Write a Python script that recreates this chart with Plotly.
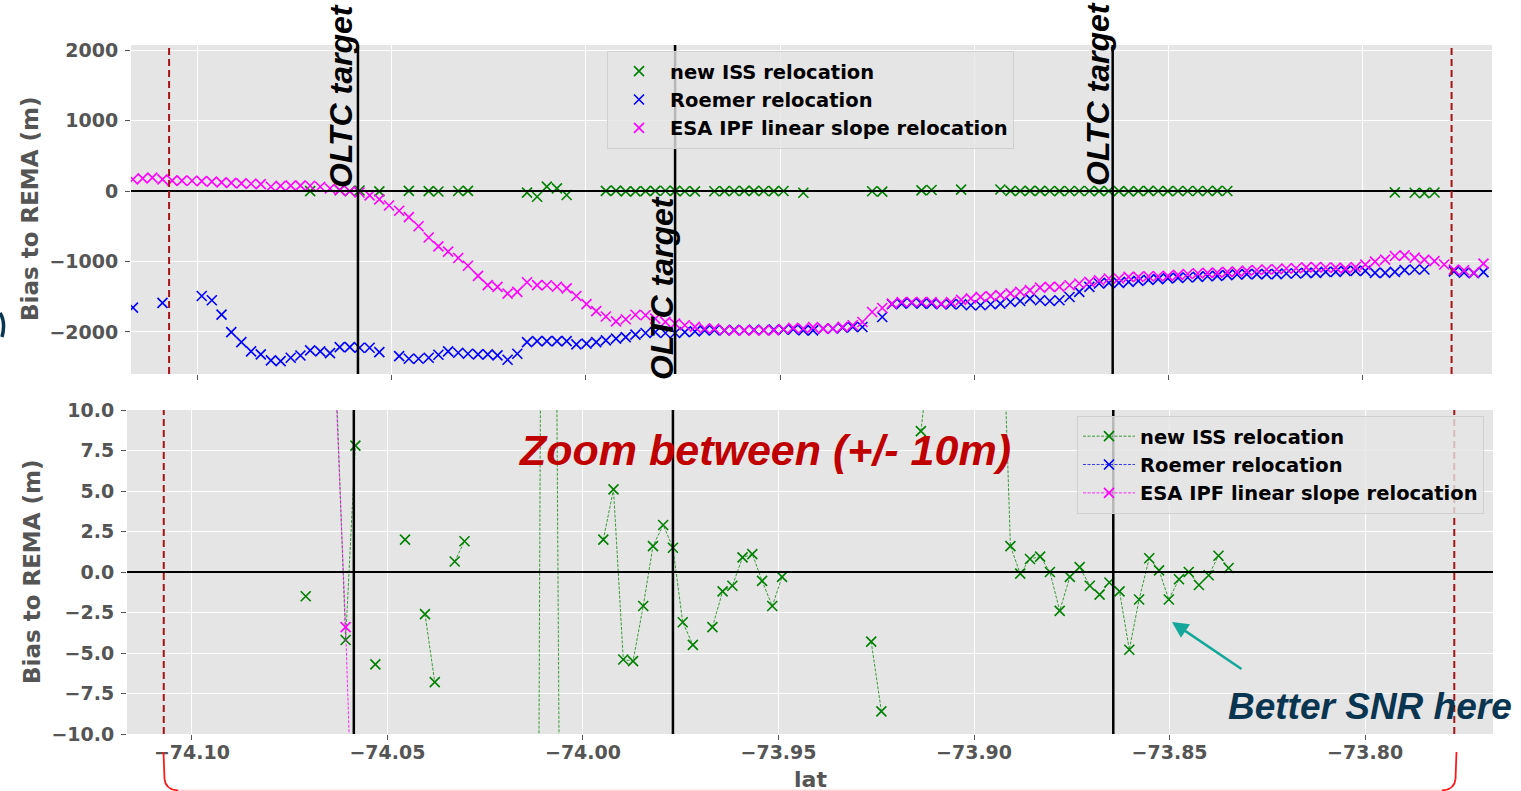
import plotly.graph_objects as go

# ---------------- data ----------------
lat = [
    -74.1165,
    -74.1140, -74.1115, -74.1089, -74.1064, -74.1039, -74.1013, -74.0988, -74.0962, -74.0937, -74.0912,
    -74.0886, -74.0861, -74.0836, -74.0810, -74.0785, -74.0759, -74.0734, -74.0709, -74.0683, -74.0658,
    -74.0633, -74.0607, -74.0582, -74.0556, -74.0531, -74.0506, -74.0480, -74.0455, -74.0430, -74.0404,
    -74.0379, -74.0354, -74.0328, -74.0303, -74.0277, -74.0252, -74.0227, -74.0201, -74.0176, -74.0151,
    -74.0125, -74.0100, -74.0074, -74.0049, -74.0024, -73.9998, -73.9973, -73.9948, -73.9922, -73.9897,
    -73.9872, -73.9846, -73.9821, -73.9795, -73.9770, -73.9745, -73.9719, -73.9694, -73.9669, -73.9643,
    -73.9618, -73.9592, -73.9567, -73.9542, -73.9516, -73.9491, -73.9466, -73.9440, -73.9415, -73.9389,
    -73.9364, -73.9339, -73.9313, -73.9288, -73.9263, -73.9237, -73.9212, -73.9187, -73.9161, -73.9136,
    -73.9110, -73.9085, -73.9060, -73.9034, -73.9009, -73.8984, -73.8958, -73.8933, -73.8907, -73.8882,
    -73.8857, -73.8831, -73.8806, -73.8781, -73.8755, -73.8730, -73.8704, -73.8679, -73.8654, -73.8628,
    -73.8603, -73.8578, -73.8552, -73.8527, -73.8502, -73.8476, -73.8451, -73.8425, -73.8400, -73.8375,
    -73.8349, -73.8324, -73.8299, -73.8273, -73.8248, -73.8222, -73.8197, -73.8172, -73.8146, -73.8121,
    -73.8096, -73.8070, -73.8045, -73.8019, -73.7994, -73.7969, -73.7943, -73.7918, -73.7893, -73.7867,
    -73.7842, -73.7816, -73.7791, -73.7766, -73.7740, -73.7715, -73.7690,
]

N = None
iss_bias = [
    N,
    N, N, N, N, N, N, N, N, N, N,
    N, N, N, N, N, N, N, -1.5, N, N,
    13, -4.2, 7.8, N, -5.7, N, N, 2.0, N, -2.6,
    -6.8, N, 0.65, 1.9, N, N, N, N, N, -24,
    -81, 61, 38, -57, N, N, N, 2.0, 5.1, -5.4,
    -5.5, -2.1, 1.6, 2.9, 1.5, -3.1, -4.5, N, -3.4, -1.2,
    -0.85, 0.9, 1.1, -0.55, -2.1, -0.3, N, -25, N, N,
    N, N, N, N, -4.3, -8.6, N, N, N, 8.7,
    14, N, N, 20, N, N, N, 21, 1.6, -0.1,
    0.8, 0.95, 0.0, -2.4, -0.3, 0.3, -0.85, -1.4, -0.65, -1.2,
    -4.8, -1.7, 0.85, 0.1, -1.7, -0.45, 0.0, -0.8, -0.2, 1.0,
    0.25, N, N, N, N, N, N, N, N, N,
    N, N, N, N, N, N, N, -20, N, -25,
    -30, -22, N, N, N, N, N,
]

roemer_bias = [
    -1654,
    N, N, -1588, N, N, N, -1489, -1550, -1753, -2001,
    -2143, -2275, -2318, -2403, -2413, -2366, -2333, -2261, -2275, -2300,
    -2214, -2214, -2223, -2223, -2285, N, -2342, -2379, -2379, -2365,
    -2323, -2275, -2294, -2308, -2318, -2318, -2332, -2394, -2308, -2143,
    -2129, -2129, -2129, -2129, -2176, -2166, -2143, -2119, -2095, -2072,
    -2038, -2015, -2001, -2015, -2015, -2001, -1991, -1977, -1975, -1977,
    -1970, -1975, -1968, -1972, -1965, -1968, -1962, -1977, -1977, -1953,
    -1953, -1939, -1929, -1929, N, -1787, -1607, -1597, -1588, -1597,
    -1597, -1607, -1607, -1607, -1621, -1621, -1607, -1597, -1574, -1560,
    -1526, -1550, -1560, -1550, -1503, -1431, -1361, -1313, -1303, -1303,
    -1289, -1275, -1260, -1250, -1240, -1232, -1227, -1218, -1209, -1204,
    -1194, -1185, -1180, -1180, -1180, -1180, -1171, -1171, -1161, -1161,
    -1147, -1147, -1133, -1133, -1133, -1161, -1161, -1147, -1123, -1114,
    -1114, N, N, -1140, -1160, -1165, -1150,
]

esa_bias = [
    165,
    180, 190, 165, 148, 147, 145, 140, 133, 123, 116,
    108, 103, 98, 60, 72, 76, 76, 75, 60, 35,
    12, -3.4, -22, -63, -118, -205, -280, -370, -500, -660,
    -785, -860, -950, -1060, -1205, -1335, -1360, -1455, -1432, -1295,
    -1335, -1337, -1358, -1382, -1490, -1605, -1705, -1780, -1850, -1820,
    -1755, -1763, -1811, -1857, -1881, -1905, -1928, -1950, -1953, -1975,
    -1977, -1977, -1977, -1977, -1977, -1957, -1942, -1950, -1932, -1953,
    -1951, -1928, -1904, -1858, -1716, -1660, -1597, -1574, -1574, -1574,
    -1574, -1596, -1575, -1545, -1523, -1501, -1492, -1477, -1453, -1430,
    -1406, -1370, -1361, -1360, -1337, -1313, -1289, -1266, -1242, -1242,
    -1219, -1218, -1210, -1209, -1204, -1190, -1177, -1167, -1161, -1157,
    -1147, -1143, -1130, -1120, -1114, -1110, -1100, -1096, -1083, -1078,
    -1085, -1088, -1097, -1080, -1045, -1002, -973, -922, -914, -946,
    -973, -995, -1043, -1115, -1125, -1160, -1030,
]

series_names = ["new ISS relocation", "Roemer relocation", "ESA IPF linear slope relocation"]
series_values = [iss_bias, roemer_bias, esa_bias]
series_colors = ["#008000", "#0000ff", "#ff00ff"]
series_line_colors = ["rgba(0,128,0,0.75)", "rgba(0,0,255,0.75)", "rgba(255,0,255,0.8)"]

oltc_lat = [-74.0586, -73.9770, -73.8644]
zone_lat = [-74.1072, -73.7772]

x_ticks = [-74.10, -74.05, -74.00, -73.95, -73.90, -73.85, -73.80]
x_ticktext = ["\u221274.10", "\u221274.05", "\u221274.00", "\u221273.95", "\u221273.90", "\u221273.85", "\u221273.80"]
top_yticks = [2000, 1000, 0, -1000, -2000]
top_yticktext = ["2000", "1000", "0", "\u22121000", "\u22122000"]
bot_yticks = [10, 7.5, 5, 2.5, 0, -2.5, -5, -7.5, -10]
bot_yticktext = ["10.0", "7.5", "5.0", "2.5", "0.0", "\u22122.5", "\u22125.0", "\u22127.5", "\u221210.0"]

# ---------------- figure ----------------
W, H = 1521, 791


def fx(p):
    return p / W


def fy(p):
    return 1 - p / H


fig = go.Figure()

for name, vals, col, lcol in zip(series_names, series_values, series_colors, series_line_colors):
    fig.add_trace(go.Scatter(
        x=lat, y=vals, mode="markers", name=name, xaxis="x", yaxis="y",
        legend="legend",
        marker=dict(symbol="x-thin", size=10, color=col, line=dict(width=1.6, color=col)),
    ))
for name, vals, col, lcol in zip(series_names, series_values, series_colors, series_line_colors):
    fig.add_trace(go.Scatter(
        x=lat, y=vals, mode="lines+markers", name=name, xaxis="x2", yaxis="y2",
        legend="legend2",
        line=dict(color=lcol, width=1, dash="3px,1.5px"),
        marker=dict(symbol="x-thin", size=10, color=col, line=dict(width=1.6, color=col)),
    ))

tick_font = dict(family="DejaVu Sans", size=19, color="#555555", weight="bold")
axis_common = dict(showgrid=True, gridcolor="white", gridwidth=1.3, zeroline=False, showline=False,
                   ticks="outside", ticklen=5, tickcolor="#555555", tickfont=tick_font, automargin=False)

legend_font = dict(family="DejaVu Sans", size=19.5, color="black", weight="bold")

fig.update_layout(
    width=W, height=H, margin=dict(l=0, r=0, t=0, b=0),
    paper_bgcolor="white", plot_bgcolor="#E5E5E5", template="none",
    xaxis=dict(domain=[fx(131), fx(1492)], range=[-74.1170, -73.7668], anchor="y",
               tickvals=x_ticks, showticklabels=False, **axis_common),
    yaxis=dict(domain=[fy(374), fy(45)], range=[-2596, 2071], anchor="x",
               tickvals=top_yticks, ticktext=top_yticktext, ticklabelstandoff=3, **axis_common),
    xaxis2=dict(domain=[fx(127), fx(1493)], range=[-74.1166, -73.7673], anchor="y2",
                tickvals=x_ticks, ticktext=x_ticktext, ticklabelstandoff=-4, **axis_common),
    yaxis2=dict(domain=[fy(734), fy(410)], range=[-10, 10], anchor="x2",
                tickvals=bot_yticks, ticktext=bot_yticktext, ticklabelstandoff=3, **axis_common),
    legend=dict(x=fx(607), y=fy(51), xanchor="left", yanchor="top",
                bgcolor="rgba(229,229,229,0.8)", bordercolor="#d0d0d0", borderwidth=1,
                font=legend_font, itemwidth=52),
    legend2=dict(x=fx(1077), y=fy(416), xanchor="left", yanchor="top",
                 bgcolor="rgba(229,229,229,0.8)", bordercolor="#d0d0d0", borderwidth=1,
                 font=legend_font, itemwidth=52),
    showlegend=True,
)

shapes = []
for xr, yr in [("x", "y"), ("x2", "y2")]:
    shapes.append(dict(type="line", xref=f"{xr} domain", yref=yr, x0=0, x1=1, y0=0, y1=0,
                       line=dict(color="black", width=2), layer="above"))
    for v in oltc_lat:
        shapes.append(dict(type="line", xref=xr, yref=f"{yr} domain", x0=v, x1=v, y0=0, y1=1,
                           line=dict(color="black", width=2.5), layer="above"))
    for v in zone_lat:
        shapes.append(dict(type="line", xref=xr, yref=f"{yr} domain", x0=v, x1=v, y0=0, y1=1,
                           line=dict(color="#a51515", width=2, dash="7px,4px"), layer="above"))


def P(x, y):
    return f"{x / W:.5f},{1 - y / H:.5f}"


# red brace under the lower panel
shapes.append(dict(type="path", xref="paper", yref="paper",
                   path=f"M {P(178, 790.3)} L {P(1442, 790.3)}",
                   line=dict(color="#ffd8d8", width=1.5)))
shapes.append(dict(type="path", xref="paper", yref="paper",
                   path=f"M {P(163.5, 752)} L {P(164.5, 779)} Q {P(165.5, 789.8)} {P(178, 790.3)}",
                   line=dict(color="#ff1a1a", width=1.8)))
shapes.append(dict(type="path", xref="paper", yref="paper",
                   path=f"M {P(1456.5, 752)} L {P(1455.5, 779)} Q {P(1454.5, 789.8)} {P(1442, 790.3)}",
                   line=dict(color="#ff1a1a", width=1.8)))
# partial dark glyph at the left page edge
shapes.append(dict(type="path", xref="paper", yref="paper",
                   path=f"M {P(0, 313)} Q {P(6, 322)} {P(2, 337)}",
                   line=dict(color="#0a3550", width=3.5)))
fig.update_layout(shapes=shapes)

oltc_font = dict(family="Liberation Sans", size=32, color="black", weight="bold", style="italic")
title_font = dict(family="DejaVu Sans", size=23, color="#555555", weight="bold")
annotations = []
for cx, cy in [(341, 96), (662, 288), (1098, 94)]:
    annotations.append(dict(text="OLTC target", x=fx(cx), y=fy(cy), xref="paper", yref="paper",
                            xanchor="center", yanchor="middle", textangle=-90, showarrow=False,
                            font=oltc_font))
annotations.append(dict(text="Zoom between (+/- 10m)", x=fx(764), y=fy(450), xref="paper", yref="paper",
                        xanchor="center", yanchor="middle", showarrow=False,
                        font=dict(family="Liberation Sans", size=43, color="#c00000", weight="bold",
                                  style="italic")))
annotations.append(dict(text="Better SNR here", x=fx(1370), y=fy(706), xref="paper", yref="paper",
                        xanchor="center", yanchor="middle", showarrow=False,
                        font=dict(family="Liberation Sans", size=37, color="#0a3550", weight="bold",
                                  style="italic")))
annotations.append(dict(text="", x=fx(1172), y=fy(622), xref="paper", yref="paper",
                        showarrow=True, ax=71, ay=48, arrowcolor="#14a89a", arrowwidth=2.5,
                        arrowhead=2, arrowsize=1.3))
annotations.append(dict(text="Bias to REMA (m)", x=fx(30), y=fy(209), xref="paper", yref="paper",
                        xanchor="center", yanchor="middle", textangle=-90, showarrow=False,
                        font=title_font))
annotations.append(dict(text="Bias to REMA (m)", x=fx(32), y=fy(572), xref="paper", yref="paper",
                        xanchor="center", yanchor="middle", textangle=-90, showarrow=False,
                        font=title_font))
annotations.append(dict(text="lat", x=fx(810), y=fy(779), xref="paper", yref="paper",
                        xanchor="center", yanchor="middle", showarrow=False,
                        font=dict(family="DejaVu Sans", size=22, color="#555555", weight="bold")))
fig.update_layout(annotations=annotations)

fig.write_html("out.html")
